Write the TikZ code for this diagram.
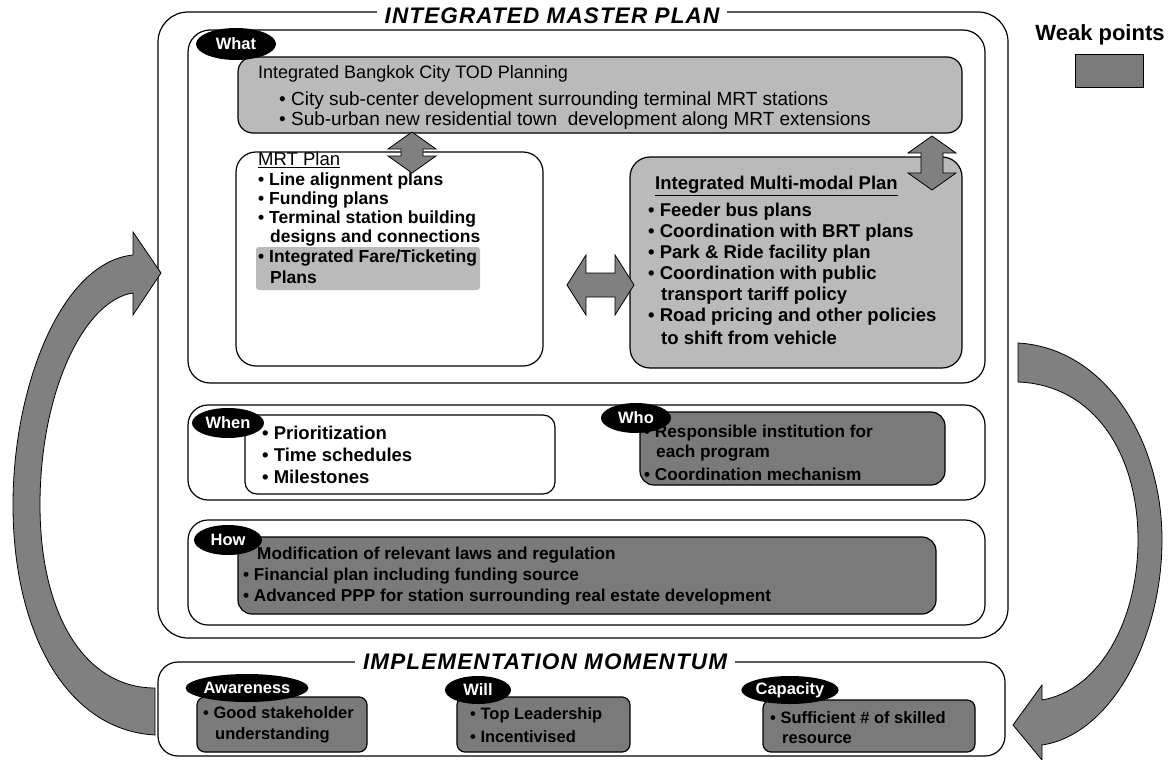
\documentclass[tikz,border=0pt]{standalone}
\usepackage{fontspec}
\setmainfont{Liberation Sans}
\usetikzlibrary{shapes.geometric,calc}
\definecolor{lightfill}{gray}{0.73}
\definecolor{weakfill}{gray}{0.48}
\definecolor{arrowfill}{gray}{0.50}
\newcommand\fsz[1]{\fontsize{#1}{#1}\selectfont}
% vertical block double arrow: centre x, top tip y, bottom tip y
\newcommand\VArrow[3]{%
  \filldraw[blockarrow] (#1,#2) -- (#1+24,#2+17) -- (#1+11,#2+17) -- (#1+11,#3-17)
    -- (#1+24,#3-17) -- (#1,#3) -- (#1-24,#3-17) -- (#1-11,#3-17) -- (#1-11,#2+17)
    -- (#1-24,#2+17) -- cycle;}
% horizontal block double arrow: centre y, left tip x, right tip x
\newcommand\HArrow[3]{%
  \filldraw[blockarrow] (#2,#1) -- (#2+19,#1-30) -- (#2+19,#1-12) -- (#3-19,#1-12)
    -- (#3-19,#1-30) -- (#3,#1) -- (#3-19,#1+30) -- (#3-19,#1+12) -- (#2+19,#1+12)
    -- (#2+19,#1+30) -- cycle;}
\begin{document}
\begin{tikzpicture}[x=1pt,y=-1pt,
  panel/.style={draw=black, line width=1.2pt, rounded corners=#1, inner sep=0pt},
  panel/.default=18pt,
  tag/.style={ellipse, fill=black, text=white, inner sep=0pt, font=\fsz{16.5}\bfseries},
  txt/.style={anchor=west, inner sep=0pt, font=\fsz{19}},
  btxt/.style={anchor=west, inner sep=0pt, font=\fsz{17.5}\bfseries},
  mtxt/.style={anchor=west, inner sep=0pt, font=\fsz{18.5}\bfseries},
  stxt/.style={anchor=west, inner sep=0pt, font=\fsz{17.2}\bfseries},
  title/.style={fill=white, inner xsep=8pt, inner ysep=1pt,
    font=\fsz{22.5}\bfseries\itshape\addfontfeatures{LetterSpace=5}},
  blockarrow/.style={fill=arrowfill, draw=black, line width=0.8pt, line join=miter},
]
\useasboundingbox (0,0) rectangle (1175,760);
\fill[white] (0,0) rectangle (1175,760);

% ---------- integrated master plan ----------
\node[panel=30pt, minimum width=850pt, minimum height=626pt] (master) at (583,325) {};
\node[title] (mtitle) at (552,16) {INTEGRATED MASTER PLAN};

% what
\node[panel=22pt, minimum width=797pt, minimum height=353pt] (what) at (586.5,206.5) {};
\node[panel=15pt, fill=lightfill, minimum width=724pt, minimum height=76pt] (tod) at (600,95) {};
\node[txt, font=\fsz{18}] (todh) at (258,74) {Integrated Bangkok City TOD Planning};
\node[txt] (tod1) at (279,101) {• City sub-center development surrounding terminal MRT stations};
\node[txt] (tod2) at (279,121) {• Sub-urban new residential town\ \ development along MRT extensions};

\node[panel=20pt, fill=white, minimum width=307pt, minimum height=214pt] (mrt) at (389.5,259) {};
\node[panel=3pt, draw=none, fill=lightfill, minimum width=224pt, minimum height=43pt] (fare) at (368,268.5) {};
\node[txt, font=\fsz{18.5}] (mrth) at (258,160) {\underline{MRT Plan}};
\node[btxt] (mrt1) at (258,181) {• Line alignment plans};
\node[btxt] (mrt2) at (258,200) {• Funding plans};
\node[btxt] (mrt3) at (258,219) {• Terminal station building};
\node[btxt] (mrt4) at (270,238) {designs and connections};
\node[btxt] (mrt5) at (258,258) {• Integrated Fare/Ticketing};
\node[btxt] (mrt6) at (270,277) {Plans};

\node[panel=20pt, fill=lightfill, minimum width=332pt, minimum height=211pt] (mm) at (796,262.5) {};
\node[mtxt] (mmh) at (655,186) {\underline{Integrated Multi-modal Plan}};
\node[mtxt] (mm1) at (648,212) {• Feeder bus plans};
\node[mtxt] (mm2) at (648,233) {• Coordination with BRT plans};
\node[mtxt] (mm3) at (648,254) {• Park \& Ride facility plan};
\node[mtxt] (mm4) at (648,275) {• Coordination with public};
\node[mtxt] (mm5) at (661,296) {transport tariff policy};
\node[mtxt] (mm6) at (648,317) {• Road pricing and other policies};
\node[mtxt] (mm7) at (661,338) {to shift from vehicle};

\VArrow{412}{132}{173}
\VArrow{932}{136}{190}
\HArrow{285}{567}{634}

\node[tag, minimum width=80pt, minimum height=32pt] (whattag) at (236,44) {What};

% when / who
\node[panel=20pt, minimum width=797pt, minimum height=95pt] (row1) at (586.5,452.5) {};
\node[panel=12pt, fill=white, minimum width=310pt, minimum height=79pt] (when) at (400,454.5) {};
\node[mtxt] (when1) at (262,433) {• Prioritization};
\node[mtxt] (when2) at (262,455) {• Time schedules};
\node[mtxt] (when3) at (262,477) {• Milestones};
\node[tag, minimum width=72pt, minimum height=30pt] (whentag) at (228,423) {When};

\node[panel=14pt, fill=weakfill, minimum width=305pt, minimum height=73pt] (who) at (792.5,448.5) {};
\node[stxt] (who1) at (644,433) {• Responsible institution for};
\node[stxt] (who2) at (656,453) {each program};
\node[stxt] (who3) at (644,474) {• Coordination mechanism};
\node[tag, minimum width=70pt, minimum height=30pt] (whotag) at (636,418) {Who};

% how
\node[panel=20pt, minimum width=797pt, minimum height=105pt] (row2) at (586.5,572.5) {};
\node[panel=14pt, fill=weakfill, minimum width=698pt, minimum height=77pt] (how) at (587,575.5) {};
\node[stxt] (how1) at (257,555) {Modification of relevant laws and regulation};
\node[stxt] (how2) at (243,576) {• Financial plan including funding source};
\node[stxt] (how3) at (243,597) {• Advanced PPP for station surrounding real estate development};
\node[tag, minimum width=68pt, minimum height=30pt] (howtag) at (228,540) {How};

% ---------- implementation momentum ----------
\node[panel=20pt, minimum width=847pt, minimum height=94pt] (impl) at (581.5,709) {};
\node[title] (ititle) at (545,662) {IMPLEMENTATION MOMENTUM};

\node[panel=8pt, fill=weakfill, minimum width=170pt, minimum height=55pt] (aw) at (282,724.5) {};
\node[stxt, font=\fsz{16.5}\bfseries] (aw1) at (203,713) {• Good stakeholder};
\node[stxt, font=\fsz{16.5}\bfseries] (aw2) at (215,735) {understanding};
\node[tag, minimum width=105pt, minimum height=28pt] (awtag) at (247,688) {Awareness};

\node[panel=8pt, fill=weakfill, minimum width=173pt, minimum height=55pt] (will) at (543.5,724.5) {};
\node[stxt, font=\fsz{16.5}\bfseries] (will1) at (470,715) {• Top Leadership};
\node[stxt, font=\fsz{16.5}\bfseries] (will2) at (470,737) {• Incentivised};
\node[tag, minimum width=66pt, minimum height=28pt] (willtag) at (478,690) {Will};

\node[panel=8pt, fill=weakfill, minimum width=212pt, minimum height=52pt] (cap) at (869,726) {};
\node[stxt, font=\fsz{16.5}\bfseries] (cap1) at (770,718) {• Sufficient \# of skilled};
\node[stxt, font=\fsz{16.5}\bfseries] (cap2) at (782,739) {resource};
\node[tag, minimum width=92pt, minimum height=28pt] (captag) at (790,690) {Capacity};

% ---------- legend ----------
\node[font=\fsz{22}\bfseries, inner sep=0pt] (weak) at (1100,35) {Weak points};
\node[draw=black, line width=1pt, fill=weakfill, minimum width=68pt, minimum height=32pt, inner sep=0pt] (swatch) at (1109,71) {};

% ---------- cycle arrows ----------
\filldraw[blockarrow]
  (155,735) .. controls (65,730) and (13,630) .. (13,505)
  .. controls (13,385) and (62,262) .. (133,255)
  -- (133,232) -- (161,273) -- (133,315) -- (133,293)
  .. controls (85,300) and (40,390) .. (40,505)
  .. controls (40,615) and (85,688) .. (155,688) -- cycle;
\filldraw[blockarrow]
  (1018,343) .. controls (1105,348) and (1162,440) .. (1162,540)
  .. controls (1162,640) and (1110,735) .. (1042,745)
  -- (1042,760) -- (1013,725) -- (1042,685) -- (1042,700)
  .. controls (1100,690) and (1138,620) .. (1138,540)
  .. controls (1138,455) and (1095,385) .. (1018,382) -- cycle;
\end{tikzpicture}
\end{document}
